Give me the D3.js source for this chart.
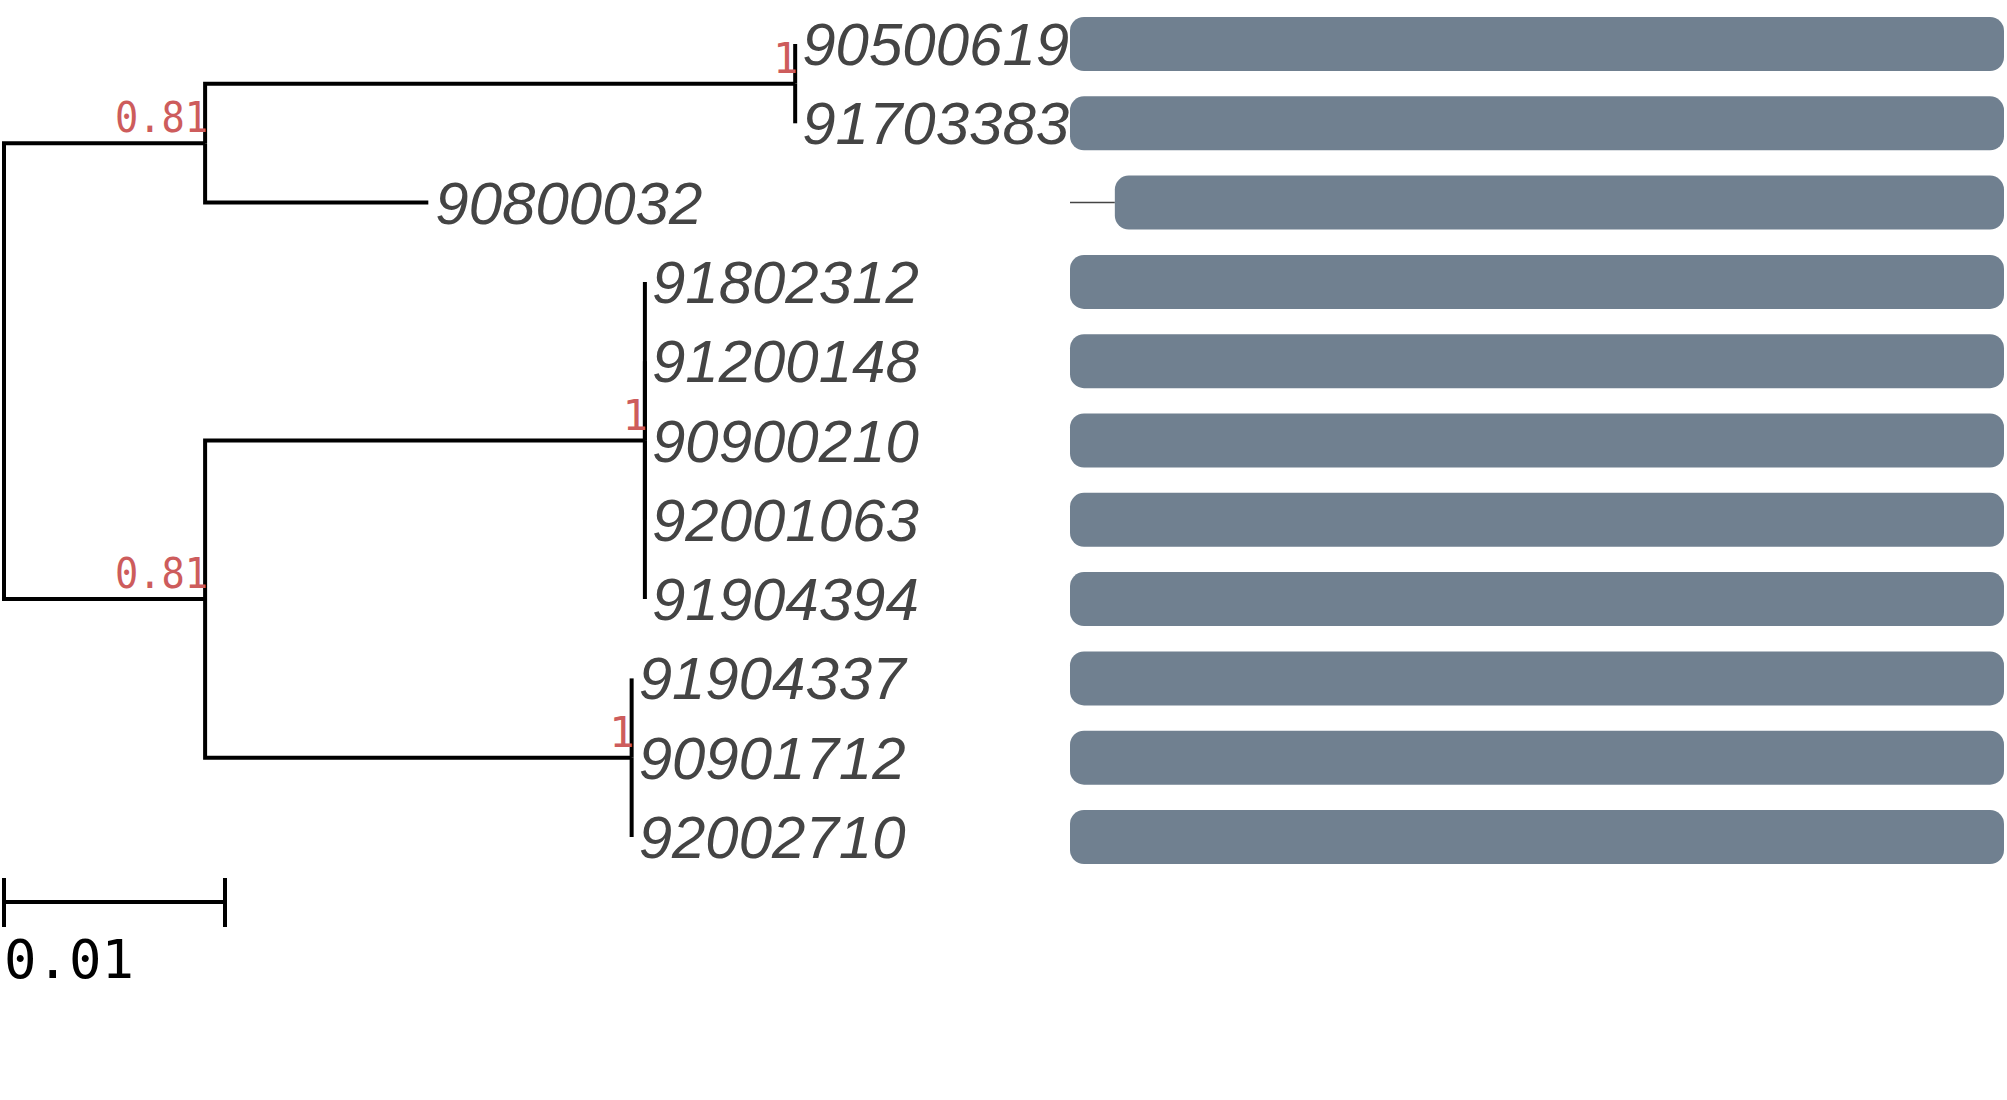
<!DOCTYPE html>
<html>
<head>
<meta charset="utf-8">
<script src="https://cdn.jsdelivr.net/npm/d3@7"></script>
<style>
    body { margin: 0; background: #ffffff; }
    svg { display: block; }
</style>
</head>
<body>
<div id="graph_area"></div>
<script>
// tree as parallel arrays: node id, parent id, branch length, support
const nodeIds      = ["root", "A", "B", "90500619", "91703383", "90800032",
                      "E", "C", "91802312", "91200148", "90900210", "92001063", "91904394",
                      "D", "91904337", "90901712", "92002710"];
const parentIds    = ["", "root", "A", "B", "B", "A",
                      "root", "E", "C", "C", "C", "C", "C",
                      "E", "D", "D", "D"];
const branchLengths = [0, 0.0091, 0.0267, 0, 0, 0.0101,
                       0.0091, 0.0199, 0, 0, 0, 0, 0,
                       0.0193, 0, 0, 0];
const supportValues = [null, "0.81", "1", null, null, null,
                       "0.81", "1", null, null, null, null, null,
                       "1", null, null, null];

// sequence bars (alignment positions), in leaf order
const leafOrder = ["90500619", "91703383", "90800032", "91802312", "91200148", "90900210",
                   "92001063", "91904394", "91904337", "90901712", "92002710"];
const seqStart  = [0, 0, 48, 0, 0, 0, 0, 0, 0, 0, 0];
const seqEnd    = [1000, 1000, 1000, 1000, 1000, 1000, 1000, 1000, 1000, 1000, 1000];
const alnLength = 1000;

const scaleBarValue = 0.01;

const width = 2007;
const height = 1100;
const bar_height = 54;
const line_w = 4;

var svg = d3.select("#graph_area").append("svg")
    .attr("width", width)
    .attr("height", height);

// build hierarchy
var table = nodeIds.map(function(id, i){
    return {id: id, parent: parentIds[i], len: branchLengths[i], support: supportValues[i]};
});
var root = d3.stratify()
    .id(function(d){ return d.id; })
    .parentId(function(d){ return d.parent || null; })(table);

// cumulative distance from root
root.eachBefore(function(n){
    n.dist = n.parent ? n.parent.dist + n.data.len : 0;
});

var x = d3.scaleLinear().domain([0, scaleBarValue]).range([4, 225]);
var y = d3.scalePoint().domain(leafOrder).range([44, 837]);
var xs = d3.scaleLinear().domain([0, alnLength]).range([1070, 2004]);

// y of internal nodes = middle of first and last child
root.eachAfter(function(n){
    if(n.children){
        n.ypos = (n.children[0].ypos + n.children[n.children.length - 1].ypos) / 2;
    } else {
        n.ypos = y(n.id);
    }
});

// elbow edges
svg.append("g")
    .selectAll("path")
    .data(root.links())
    .enter()
    .append("path")
    .attr("d", function(d){
        return "M" + x(d.source.dist) + "," + d.source.ypos +
               "V" + d.target.ypos + "H" + x(d.target.dist);
    })
    .attr("fill", "none")
    .attr("stroke", "#000000")
    .attr("stroke-width", line_w);

// leaf labels
svg.append("g")
    .selectAll("text")
    .data(root.leaves())
    .enter()
    .append("text")
    .text(function(d){ return d.id; })
    .attr("x", function(d){ return x(d.dist) + 7; })
    .attr("y", function(d){ return d.ypos; })
    .attr("dy", "0.35em")
    .attr("font-family", "Liberation Sans, Arial, sans-serif")
    .attr("font-style", "italic")
    .attr("font-size", 60)
    .attr("fill", "#444444");

// support values
var sup = svg.append("g")
    .selectAll("text")
    .data(root.descendants().filter(function(d){ return d.data.support; }))
    .enter()
    .append("text")
    .text(function(d){ return d.data.support; })
    .attr("x", function(d){ return x(d.dist) + 3; })
    .attr("y", function(d){ return d.ypos - 11; })
    .attr("text-anchor", "end")
    .attr("font-family", "DejaVu Sans Mono, monospace")
    .attr("font-size", 42)
    .attr("fill", "#cd5c5c");

// the longer ones are a touch narrower in the original
sup.filter(function(d){ return d.data.support.length > 1; })
    .attr("textLength", function(d){ return d.data.support.length * 23.3; })
    .attr("lengthAdjust", "spacingAndGlyphs");

// sequence bars
var bars = svg.append("g")
    .selectAll("g")
    .data(leafOrder)
    .enter()
    .append("g");

bars.filter(function(d, i){ return seqStart[i] > 0; })
    .append("line")
    .attr("x1", xs(0))
    .attr("x2", function(d){ return xs(seqStart[leafOrder.indexOf(d)]); })
    .attr("y1", function(d){ return y(d); })
    .attr("y2", function(d){ return y(d); })
    .attr("stroke", "#444444")
    .attr("stroke-width", 1.5);

bars.append("rect")
    .attr("x", function(d, i){ return xs(seqStart[i]); })
    .attr("y", function(d){ return y(d) - bar_height / 2; })
    .attr("width", function(d, i){ return xs(seqEnd[i]) - xs(seqStart[i]); })
    .attr("height", bar_height)
    .attr("rx", 14)
    .attr("ry", 14)
    .attr("fill", "#708090");

// scale bar
var sb = svg.append("g");
var sbY = 902;
sb.append("line")
    .attr("x1", x(0)).attr("x2", x(scaleBarValue))
    .attr("y1", sbY).attr("y2", sbY)
    .attr("stroke", "#000000").attr("stroke-width", line_w);
sb.selectAll(".tick")
    .data([0, scaleBarValue])
    .enter()
    .append("line")
    .attr("class", "tick")
    .attr("x1", function(d){ return x(d); })
    .attr("x2", function(d){ return x(d); })
    .attr("y1", sbY - 24)
    .attr("y2", sbY + 25)
    .attr("stroke", "#000000")
    .attr("stroke-width", line_w);
sb.append("text")
    .text(String(scaleBarValue))
    .attr("x", x(0))
    .attr("y", 978)
    .attr("font-family", "DejaVu Sans Mono, monospace")
    .attr("font-size", 54)
    .attr("fill", "#000000");
</script>
</body>
</html>
